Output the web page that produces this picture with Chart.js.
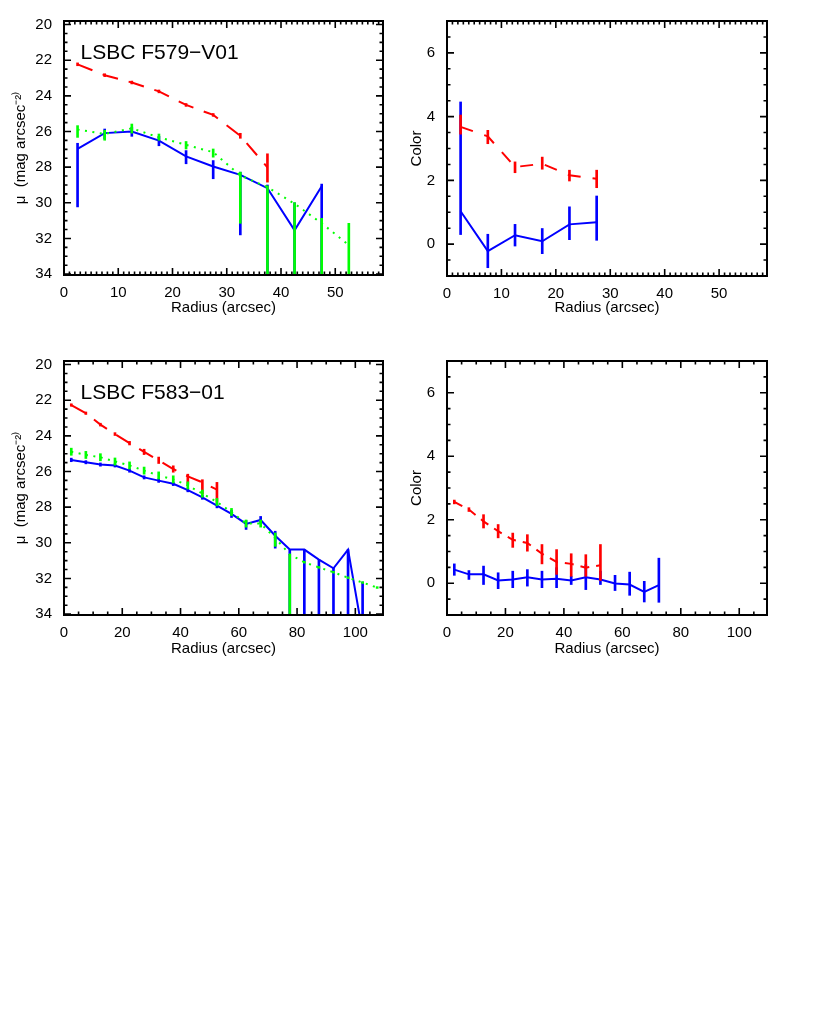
<!DOCTYPE html>
<html>
<head>
<meta charset="utf-8">
<script src="https://cdn.jsdelivr.net/npm/chart.js@4.4.0/dist/chart.umd.min.js"></script>
<style>
  html, body { margin: 0; padding: 0; background: #fff; }
  #page { position: relative; width: 830px; height: 1022px; background: #fff; }
  canvas { position: absolute; }
</style>
</head>
<body>
<div id="page">
  <canvas id="muF579" width="415" height="330" style="left:0px;top:0px"></canvas>
  <canvas id="colF579" width="430" height="330" style="left:400px;top:0px"></canvas>
  <canvas id="muF583" width="415" height="330" style="left:0px;top:340px"></canvas>
  <canvas id="colF583" width="430" height="330" style="left:400px;top:340px"></canvas>
</div>
<script>
// 반경 (arcsec)
const RAD_579 = [2.5, 7.5, 12.5, 17.5, 22.5, 27.5, 32.5, 37.5, 42.5, 47.5, 52.5];
const RAD_583 = [2.5, 7.5, 12.5, 17.5, 22.5, 27.5, 32.5, 37.5, 42.5, 47.5, 52.5,
                 57.5, 62.5, 67.5, 72.5, 77.5, 82.5, 87.5, 92.5, 97.5, 102.5, 107.5];

// 눈금
const X_TICKS_579 = [0, 10, 20, 30, 40, 50];
const X_TICKS_583 = [0, 20, 40, 60, 80, 100];
const MU_TICKS = [20, 22, 24, 26, 28, 30, 32, 34];
const COLOR_TICKS = [0, 2, 4, 6];

// LSBC F579-V01 표면 밝기
const MU579_RED     = [22.23, 22.84, 23.25, 23.75, 24.51, 25.07, 26.24, 28.01];
const MU579_RED_LO  = [22.15, 22.76, 23.17, 23.67, 24.43, 24.99, 26.10, 27.25];
const MU579_RED_HI  = [22.31, 22.92, 23.33, 23.83, 24.59, 25.15, 26.38, 28.84];
const MU579_BLUE    = [26.98, 26.09, 26.00, 26.51, 27.40, 27.96, 28.43, 29.18, 31.54, 29.07];
const MU579_BLUE_LO = [26.66, 25.86, 25.77, 26.27, 27.07, 27.63, 28.28, 29.00, 30.00, 28.95];
const MU579_BLUE_HI = [30.23, 26.42, 26.27, 26.80, 27.81, 28.65, 31.80, 35.00, 35.00, 35.00];
const MU579_GREEN    = [25.89, 26.14, 25.82, 26.33, 26.75, 27.16, 28.47, 29.12, 30.05, 31.15, 32.37];
const MU579_GREEN_LO = [25.67, 25.93, 25.58, 26.14, 26.56, 26.98, 28.28, 29.05, 29.99, 30.87, 31.15];
const MU579_GREEN_HI = [26.33, 26.49, 26.09, 26.49, 26.98, 27.44, 31.15, 35.00, 35.00, 35.00, 35.00];

// LSBC F579-V01 색지수
const COL579_RED     = [3.68, 3.38, 2.42, 2.52, 2.16, 2.05];
const COL579_RED_LO  = [3.45, 3.15, 2.24, 2.35, 1.98, 1.77];
const COL579_RED_HI  = [4.05, 3.57, 2.58, 2.73, 2.32, 2.32];
const COL579_BLUE    = [1.03, -0.22, 0.28, 0.09, 0.62, 0.69];
const COL579_BLUE_LO = [0.30, -0.74, -0.06, -0.30, 0.14, 0.12];
const COL579_BLUE_HI = [4.46, 0.31, 0.62, 0.49, 1.17, 1.51];

// LSBC F583-01 표면 밝기
const MU583_RED     = [22.27, 22.73, 23.37, 23.90, 24.41, 24.90, 25.37, 25.86, 26.27, 26.61, 27.02];
const MU583_RED_LO  = [22.20, 22.66, 23.29, 23.82, 24.31, 24.75, 25.19, 25.68, 26.15, 26.46, 26.61];
const MU583_RED_HI  = [22.34, 22.80, 23.45, 23.98, 24.51, 25.05, 25.55, 26.04, 26.71, 27.26, 27.73];
const MU583_BLUE    = [25.35, 25.48, 25.61, 25.66, 25.95, 26.33, 26.51, 26.69, 27.04, 27.45, 27.92,
                       28.38, 28.94, 28.72, 29.60, 30.38, 30.38, 30.94, 31.43, 30.38, 35.05];
const MU583_BLUE_LO = [25.25, 25.39, 25.52, 25.57, 25.86, 26.24, 26.41, 26.59, 26.94, 27.34, 27.80,
                       28.18, 28.75, 28.52, 29.35, 30.38, 30.38, 30.94, 31.43, 30.38, 32.20];
const MU583_BLUE_HI = [25.45, 25.57, 25.70, 25.75, 26.04, 26.42, 26.61, 26.79, 27.14, 27.56, 28.04,
                       28.58, 29.25, 28.92, 30.30, 35.00, 35.00, 35.00, 35.00, 35.00, 36.00];
const MU583_GREEN    = [24.89, 25.07, 25.20, 25.44, 25.66, 25.95, 26.22, 26.44, 26.78, 27.24, 27.71,
                        28.27, 28.92, 28.92, 29.73, 30.65, 31.09, 31.38, 31.65, 31.96, 32.23, 32.51];
const MU583_GREEN_LO = [24.69, 24.87, 25.00, 25.24, 25.46, 25.75, 26.02, 26.24, 26.58, 27.04, 27.51,
                        28.07, 28.72, 28.72, 29.45, 30.65, 31.04, 31.33, 31.60, 31.91, 32.18, 32.46];
const MU583_GREEN_HI = [25.09, 25.27, 25.40, 25.64, 25.86, 26.15, 26.42, 26.64, 26.98, 27.44, 27.91,
                        28.47, 29.12, 29.12, 30.20, 35.00, 31.14, 31.43, 31.70, 32.01, 32.28, 32.56];

// LSBC F583-01 색지수
const COL583_RED     = [2.56, 2.32, 1.95, 1.64, 1.37, 1.27, 0.93, 0.67, 0.61, 0.49, 0.57];
const COL583_RED_LO  = [2.50, 2.26, 1.74, 1.43, 1.13, 1.01, 0.61, 0.28, 0.22, 0.22, 0.09];
const COL583_RED_HI  = [2.62, 2.38, 2.16, 1.85, 1.58, 1.53, 1.22, 1.06, 0.93, 0.90, 1.22];
const COL583_BLUE    = [0.43, 0.28, 0.28, 0.09, 0.12, 0.19, 0.12, 0.14, 0.09, 0.19, 0.12, -0.01, -0.04, -0.27, -0.06];
const COL583_BLUE_LO = [0.25, 0.12, -0.04, -0.17, -0.14, -0.09, -0.14, -0.14, -0.04, -0.20, -0.04, -0.23, -0.38, -0.59, -0.60];
const COL583_BLUE_HI = [0.61, 0.40, 0.54, 0.33, 0.38, 0.43, 0.38, 0.49, 0.22, 0.58, 0.38, 0.25, 0.35, 0.06, 0.79];

const FONT = "'Liberation Sans', Arial, Helvetica, sans-serif";
const RED = '#ff0000', BLUE = '#0000ff', GREEN = '#00ff00';

/**
 * IDL 스타일 테두리 + 안쪽 눈금 + 패널 라벨
 */
const idlFrame = {
    id: 'idlFrame',
    afterDatasetsDraw(chart, args, o) {
        const { ctx, chartArea: a } = chart;
        const xs = chart.scales.x, ys = chart.scales.y;

        const marks = (scale, minorStep) => {
            const majors = scale.ticks.map(t => t.value);
            const out = majors.map(v => [v, o.major]);
            const k0 = Math.ceil(Math.min(scale.min, scale.max) / minorStep);
            const k1 = Math.floor(Math.max(scale.min, scale.max) / minorStep);
            for (let k = k0; k <= k1; k++) {
                const v = k * minorStep;
                if (!majors.some(m => Math.abs(m - v) < 1e-6)) out.push([v, o.minor]);
            }
            return out;
        };

        ctx.save();
        ctx.strokeStyle = '#000';
        ctx.lineWidth = 1.6;
        ctx.beginPath();
        for (const [v, len] of marks(xs, o.xMinor)) {
            const px = xs.getPixelForValue(v);
            ctx.moveTo(px, a.bottom); ctx.lineTo(px, a.bottom - len);
            ctx.moveTo(px, a.top); ctx.lineTo(px, a.top + len);
        }
        for (const [v, len] of marks(ys, o.yMinor)) {
            const py = ys.getPixelForValue(v);
            ctx.moveTo(a.left, py); ctx.lineTo(a.left + len, py);
            ctx.moveTo(a.right, py); ctx.lineTo(a.right - len, py);
        }
        ctx.stroke();

        ctx.lineWidth = 2;
        ctx.strokeRect(a.left, a.top, a.right - a.left, a.bottom - a.top);

        if (o.label) {
            ctx.fillStyle = '#000';
            ctx.font = '21px ' + FONT;
            ctx.textBaseline = 'alphabetic';
            ctx.fillText(o.label, a.left + 16.5, a.top + 37.5);
        }
        ctx.restore();
    }
};

function profile(rad, vals, color, dash, order) {
    return {
        type: 'line',
        data: vals.map((v, i) => ({ x: rad[i], y: v })),
        borderColor: color,
        borderWidth: 2,
        borderDash: dash,
        pointRadius: 0,
        tension: 0,
        fill: false,
        clip: 0,
        order: order
    };
}

function errBars(rad, lo, hi, color, order) {
    return {
        type: 'bar',
        data: lo.map((l, i) => ({ x: rad[i], y: [l, hi[i]] })),
        backgroundColor: color,
        borderWidth: 0,
        barThickness: 2,
        grouped: false,
        clip: 0,
        order: order
    };
}

function createPanel(canvasId, p) {
    const ctx = document.getElementById(canvasId).getContext('2d');
    const tickFont = { family: FONT, size: 15 };

    return new Chart(ctx, {
        type: 'line',
        data: { datasets: p.datasets },
        plugins: [idlFrame],
        options: {
            responsive: false,
            animation: false,
            devicePixelRatio: 1,
            layout: { autoPadding: false, padding: { top: p.padTop, right: p.padRight, left: 0, bottom: 0 } },
            plugins: {
                legend: { display: false },
                tooltip: { enabled: false },
                idlFrame: { major: 7, minor: 3.5, xMinor: p.xMinor, yMinor: p.yMinor, label: p.label }
            },
            scales: {
                x: {
                    type: 'linear',
                    min: 0,
                    max: p.xMax,
                    offset: false,
                    grid: { display: false },
                    border: { display: false },
                    ticks: { font: tickFont, color: '#000', padding: 1, maxRotation: 0, autoSkip: false },
                    afterBuildTicks: s => { s.ticks = p.xTicks.map(v => ({ value: v })); },
                    afterFit: s => { s.height = p.xHeight; },
                    title: {
                        display: true,
                        text: 'Radius (arcsec)',
                        color: '#000',
                        font: tickFont,
                        padding: { top: 0, bottom: p.xTitlePad }
                    }
                },
                y: {
                    type: 'linear',
                    min: p.yMin,
                    max: p.yMax,
                    reverse: p.reverse,
                    grid: { display: false },
                    border: { display: false },
                    ticks: { font: tickFont, color: '#000', padding: 4, autoSkip: false },
                    afterBuildTicks: s => { s.ticks = p.yTicks.map(v => ({ value: v })); },
                    afterFit: s => { s.width = p.yWidth; },
                    title: {
                        display: true,
                        text: p.yTitle,
                        color: '#000',
                        font: tickFont,
                        padding: { top: p.yTitlePad, bottom: 0 }
                    }
                }
            }
        }
    });
}

const MU_TITLE = 'μ  (mag arcsec⁻²⁾';

createPanel('muF579', {
    padTop: 21, padRight: 32, yWidth: 64, xHeight: 55, xTitlePad: 13, yTitlePad: 12,
    xMax: 58.8, xTicks: X_TICKS_579, xMinor: 1,
    yMin: 19.8, yMax: 34.05, reverse: true, yTicks: MU_TICKS, yMinor: 0.5,
    yTitle: MU_TITLE, label: 'LSBC F579−V01',
    datasets: [
        errBars(RAD_579, MU579_GREEN_LO, MU579_GREEN_HI, GREEN, 1),
        profile(RAD_579, MU579_GREEN, GREEN, [2, 5.5], 2),
        errBars(RAD_579, MU579_BLUE_LO, MU579_BLUE_HI, BLUE, 3),
        profile(RAD_579, MU579_BLUE, BLUE, [], 4),
        errBars(RAD_579, MU579_RED_LO, MU579_RED_HI, RED, 5),
        profile(RAD_579, MU579_RED, RED, [16, 11], 6)
    ]
});

createPanel('colF579', {
    padTop: 21, padRight: 63, yWidth: 47, xHeight: 54, xTitlePad: 13, yTitlePad: 8,
    xMax: 58.8, xTicks: X_TICKS_579, xMinor: 1,
    yMin: -1, yMax: 7, reverse: false, yTicks: COLOR_TICKS, yMinor: 0.5,
    yTitle: 'Color', label: null,
    datasets: [
        errBars(RAD_579, COL579_RED_LO, COL579_RED_HI, RED, 1),
        profile(RAD_579, COL579_RED, RED, [13, 12], 2),
        errBars(RAD_579, COL579_BLUE_LO, COL579_BLUE_HI, BLUE, 3),
        profile(RAD_579, COL579_BLUE, BLUE, [], 4)
    ]
});

createPanel('muF583', {
    padTop: 21, padRight: 32, yWidth: 64, xHeight: 55, xTitlePad: 12, yTitlePad: 12,
    xMax: 109.5, xTicks: X_TICKS_583, xMinor: 5,
    yMin: 19.8, yMax: 34.05, reverse: true, yTicks: MU_TICKS, yMinor: 0.5,
    yTitle: MU_TITLE, label: 'LSBC F583−01',
    datasets: [
        errBars(RAD_583, MU583_GREEN_LO, MU583_GREEN_HI, GREEN, 1),
        profile(RAD_583, MU583_GREEN, GREEN, [2, 5.5], 2),
        errBars(RAD_583, MU583_BLUE_LO, MU583_BLUE_HI, BLUE, 3),
        profile(RAD_583, MU583_BLUE, BLUE, [], 4),
        errBars(RAD_583, MU583_RED_LO, MU583_RED_HI, RED, 5),
        profile(RAD_583, MU583_RED, RED, [16, 11], 6)
    ]
});

createPanel('colF583', {
    padTop: 21, padRight: 63, yWidth: 47, xHeight: 55, xTitlePad: 12, yTitlePad: 8,
    xMax: 109.5, xTicks: X_TICKS_583, xMinor: 5,
    yMin: -1, yMax: 7, reverse: false, yTicks: COLOR_TICKS, yMinor: 0.5,
    yTitle: 'Color', label: null,
    datasets: [
        errBars(RAD_583, COL583_RED_LO, COL583_RED_HI, RED, 1),
        profile(RAD_583, COL583_RED, RED, [9, 7], 2),
        errBars(RAD_583, COL583_BLUE_LO, COL583_BLUE_HI, BLUE, 3),
        profile(RAD_583, COL583_BLUE, BLUE, [], 4)
    ]
});
</script>
</body>
</html>
